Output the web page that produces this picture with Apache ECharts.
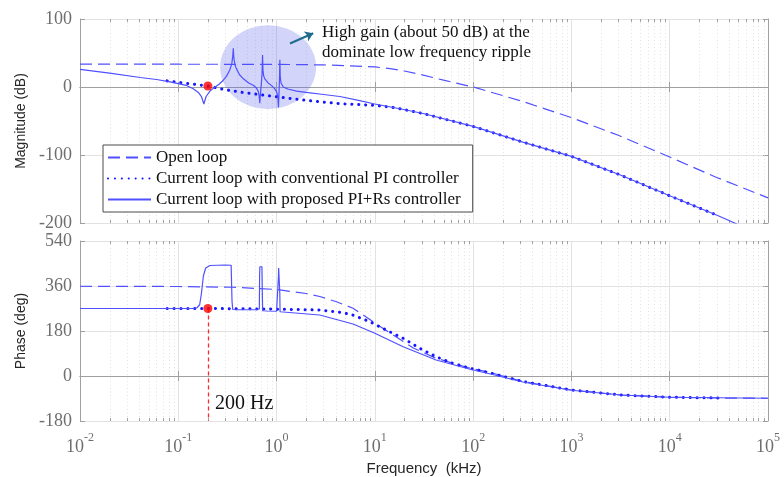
<!DOCTYPE html>
<html>
<head>
<meta charset="utf-8">
<script src="https://cdn.jsdelivr.net/npm/echarts/dist/echarts.min.js"></script>
<style>
html,body{margin:0;padding:0;background:#fff;}
#chart{width:784px;height:477px;}
</style>
</head>
<body>
<div id="chart"></div>
<script>
// ---------------- data (frequency in kHz) ----------------
const legendNames = ['Open loop', 'Current loop with conventional PI controller', 'Current loop with proposed PI+Rs controller'];

// Open loop
const olFreq = [0.01, 0.1, 1, 3, 5, 10, 14.3, 20, 31, 50, 100, 300, 1000, 3000, 10000, 30000, 100000];
const olMag  = [33.5, 33.5, 33.3, 32.5, 31.5, 29.5, 27, 23.5, 17.5, 10, 0, -20, -45, -71, -103, -133, -163];
const olPhFreq = [0.01, 0.1, 0.36, 1, 2, 2.75, 4, 6, 10, 16.7, 24.6, 42, 93, 150, 320, 1000, 3200, 10000, 30000, 100000];
const olPhase  = [359, 358, 355, 346, 330, 318, 298, 271, 212, 155, 112, 71, 31, 14, -22, -56, -76, -85, -88, -89];

// Current loop, conventional PI
const piFreq = [0.077, 0.112, 0.2, 0.265, 0.42, 0.92, 2, 4.4, 10, 14.3, 18, 31, 100, 320, 1000, 3100, 10000, 32000];
const piMag  = [9, 6, 1.5, -2.5, -7.4, -13.7, -19.7, -24.5, -27, -29.5, -32, -39, -58, -81, -102, -129, -160, -190];
const piPhFreq = [0.077, 0.2, 0.85, 2.75, 4, 5.6, 8.9, 13, 19.4, 28.6, 42, 62, 93, 150, 320, 1000, 3200, 10000, 32000];
const piPhase  = [270, 270, 268, 264, 257, 248, 217, 184, 151, 111, 77, 51, 31, 12, -22, -56, -76, -85, -88];

// Current loop, proposed PI+Rs
const rsFreq = [0.01, 0.02, 0.041, 0.06, 0.08, 0.1, 0.12, 0.142, 0.16, 0.172, 0.182, 0.192, 0.21, 0.227, 0.26, 0.287, 0.31, 0.334, 0.35, 0.358, 0.363, 0.368, 0.378, 0.39, 0.42, 0.46, 0.52, 0.58, 0.62, 0.65, 0.665, 0.675, 0.685, 0.70, 0.712, 0.72, 0.727, 0.74, 0.76, 0.82, 0.89, 0.95, 1.0, 1.03, 1.045, 1.058, 1.07, 1.08, 1.09, 1.11, 1.17, 1.3, 1.6, 2.0, 3.0, 4.4, 7, 10, 18, 31, 100, 320, 1000, 3100, 10000, 32000, 100000];
const rsMag  = [26, 20.5, 14, 11, 8, 5, 2.5, -2.5, -8, -14, -25, -14, -6, -2, 4, 10, 16, 25, 34, 45, 57, 42, 32, 27, 18, 12, 6, 2.5, -1, -6, -13, -24, -10, 5, 20, 47, 25, 16, 12, 6, 2, -2, -7, -14, -30, -10, 10, 40, 15, 6, 0, -3, -6, -8, -11, -14, -20, -25, -32, -39, -58, -81, -102, -129, -160, -190, -222];
const rsPhFreq = [0.01, 0.14, 0.155, 0.165, 0.172, 0.18, 0.19, 0.21, 0.3, 0.345, 0.352, 0.358, 0.4, 0.6, 0.668, 0.672, 0.676, 0.71, 0.716, 0.722, 0.8, 1.0, 1.042, 1.046, 1.05, 1.075, 1.079, 1.085, 1.1, 2.75, 6.0, 10, 19.4, 42, 93, 150, 320, 1000, 3200, 10000, 100000];
const rsPhase  = [270, 270, 273, 285, 330, 400, 432, 442, 444, 443, 300, 266, 265, 265, 268, 400, 437, 437, 330, 261, 260, 259, 262, 400, 432, 430, 330, 257, 257, 244, 208, 171, 117, 64, 27, 8, -24, -57, -76, -85, -89];

// 200 Hz marker
const markFreq = 0.2;
const markMag = 1.5;
const markPhase = 270;

// highlight ellipse and arrow (data coordinates)
const ellipseCenter = [0.82, 29];
const arrowFrom = [1.37, 64];
const arrowTo = [2.36, 79];

// axes
const xMin = 0.01, xMax = 100000;
const magMin = -200, magMax = 100, magStep = 100;
const phMin = -180, phMax = 540, phStep = 180;
const minorMultipliers = [2, 3, 4, 5, 6, 7, 8, 9];
const decades = [-2, -1, 0, 1, 2, 3, 4];

// -----------------------------------------------------------
const minorVals = [];
decades.forEach(d => minorMultipliers.forEach(m => minorVals.push([m * Math.pow(10, d), 0])));

const pairs = (f, v) => f.map((x, i) => [x, v[i]]);

const BLUE = '#5050ff';
const DOT = '#1515ff';
const AXIS = '#a0a0a0';
const GRID = '#e2e2e2';
const LABEL = '#6e6e6e';
const SERIF = 'Liberation Serif';
const SANS = 'Liberation Sans';

function xAx(grid, showLabel, pos) {
  const o = {
    type: 'log', logBase: 10, gridIndex: grid, min: xMin, max: xMax, position: pos,
    axisLine: { show: true, lineStyle: { color: AXIS, width: 1 } },
    axisTick: { show: true, inside: true, length: 5, lineStyle: { color: AXIS } },
    splitLine: { show: pos === 'bottom', lineStyle: { color: GRID, width: 1 } },
    axisLabel: { show: false },
    minorTick: { show: false }
  };
  if (showLabel) {
    o.axisLabel = {
      show: true, margin: 11,
      formatter: v => '{b|10}{s|' + Math.round(Math.log10(v)) + '}',
      rich: {
        b: { fontFamily: SERIF, fontSize: 18, color: LABEL, verticalAlign: 'bottom', lineHeight: 24 },
        s: { fontFamily: SERIF, fontSize: 12, color: LABEL, verticalAlign: 'top', lineHeight: 24 }
      }
    };
    o.name = 'Frequency  (kHz)';
    o.nameLocation = 'middle';
    o.nameGap = 40;
    o.nameTextStyle = { fontFamily: SANS, fontSize: 15, color: '#262626' };
  }
  return o;
}
function yAx(grid, min, max, step, name, pos) {
  const o = {
    type: 'value', gridIndex: grid, min: min, max: max, interval: step, position: pos,
    axisLine: { show: true, lineStyle: { color: AXIS, width: 1 } },
    axisTick: { show: true, inside: true, length: 5, lineStyle: { color: AXIS } },
    splitLine: { show: pos === 'left', lineStyle: { color: GRID, width: 1 } },
    axisLabel: { show: pos === 'left', margin: 8, fontFamily: SERIF, fontSize: 18, color: LABEL }
  };
  if (name) {
    o.name = name;
    o.nameLocation = 'middle';
    o.nameGap = 47;
    o.nameTextStyle = { fontFamily: SANS, fontSize: 14, color: '#262626' };
  }
  return o;
}

function minorSeries(grid) {
  return {
    type: 'custom', xAxisIndex: grid, yAxisIndex: grid, silent: true, z: 1,
    data: minorVals,
    renderItem: function (params, api) {
      const cs = params.coordSys;
      const x = Math.round(api.coord([api.value(0), api.value(1)])[0]) + 0.5;
      return {
        type: 'group',
        children: [
          { type: 'line', shape: { x1: x, y1: cs.y, x2: x, y2: cs.y + cs.height }, style: { stroke: '#e3e3e3', lineWidth: 1, lineDash: [1, 2.5] } },
          { type: 'line', shape: { x1: x, y1: cs.y + cs.height, x2: x, y2: cs.y + cs.height - 3 }, style: { stroke: AXIS, lineWidth: 1 } },
          { type: 'line', shape: { x1: x, y1: cs.y, x2: x, y2: cs.y + 3 }, style: { stroke: AXIS, lineWidth: 1 } }
        ]
      };
    }
  };
}

function curve(name, grid, data, kind) {
  const s = {
    name: name, type: 'line', xAxisIndex: grid, yAxisIndex: grid, data: data,
    symbol: 'none', showSymbol: false, z: 3, silent: true, clip: true,
    itemStyle: { color: kind === 'dot' ? DOT : BLUE },
    lineStyle: { color: BLUE, width: 1.2, type: 'solid' }
  };
  if (kind === 'dash') s.lineStyle.type = [12, 6];
  if (kind === 'dot') s.lineStyle = { color: DOT, width: 3, type: [0.1, 6.8], cap: 'round' };
  return s;
}

const chart = echarts.init(document.getElementById('chart'), null, { renderer: 'canvas' });
chart.setOption({
  animation: false,
  backgroundColor: '#ffffff',
  grid: [
    { left: 80, right: 16, top: 19, height: 204 },
    { left: 80, right: 16, top: 241, height: 180 }
  ],
  legend: {
    data: legendNames, orient: 'vertical', left: 103, top: 145, z: 20,
    backgroundColor: '#ffffff', borderColor: '#4a4a4a', borderWidth: 1,
    padding: [3, 12, 3, 4], itemWidth: 43, itemHeight: 14, itemGap: 2,
    selectedMode: false,
    itemStyle: { color: 'rgba(0,0,0,0)', borderWidth: 0, opacity: 0 },
    textStyle: { fontFamily: SERIF, fontSize: 17, color: '#111', lineHeight: 19 }
  },
  xAxis: [xAx(0, false, 'bottom'), xAx(1, true, 'bottom'), xAx(0, false, 'top'), xAx(1, false, 'top')],
  yAxis: [
    yAx(0, magMin, magMax, magStep, 'Magnitude (dB)', 'left'),
    yAx(1, phMin, phMax, phStep, 'Phase (deg)', 'left'),
    yAx(0, magMin, magMax, magStep, null, 'right'),
    yAx(1, phMin, phMax, phStep, null, 'right')
  ],
  graphic: [
    { type: 'text', left: 322, top: 23, z: 30,
      style: { text: 'High gain (about 50 dB) at the\ndominate low frequency ripple', fontFamily: SERIF, fontSize: 17, lineHeight: 20, fill: '#111' } },
    { type: 'text', left: 215, top: 394, z: 30,
      style: { text: '200 Hz', fontFamily: SERIF, fontSize: 20, fill: '#111' } }
  ],
  series: [
    minorSeries(0),
    minorSeries(1),
    {
      type: 'scatter', xAxisIndex: 0, yAxisIndex: 0, silent: true, z: 2,
      data: [ellipseCenter], symbol: 'circle', symbolSize: [96, 84],
      itemStyle: { color: 'rgba(95,105,235,0.35)' },
      markLine: {
        silent: true, symbol: ['none', 'arrow'], symbolSize: 8,
        label: { show: false },
        lineStyle: { color: '#1f6b8c', width: 2, type: 'solid' },
        data: [[{ coord: arrowFrom }, { coord: arrowTo }]]
      }
    },
    curve(legendNames[0], 0, pairs(olFreq, olMag), 'dash'),
    curve(legendNames[1], 0, pairs(piFreq, piMag), 'dot'),
    curve(legendNames[2], 0, pairs(rsFreq, rsMag), 'solid'),
    curve(legendNames[0], 1, pairs(olPhFreq, olPhase), 'dash'),
    curve(legendNames[1], 1, pairs(piPhFreq, piPhase), 'dot'),
    curve(legendNames[2], 1, pairs(rsPhFreq, rsPhase), 'solid'),
    {
      type: 'scatter', xAxisIndex: 0, yAxisIndex: 0, silent: true, z: 6,
      data: [[markFreq, markMag]], symbolSize: 9, itemStyle: { color: '#ff0000' }
    },
    {
      type: 'scatter', xAxisIndex: 1, yAxisIndex: 1, silent: true, z: 6,
      data: [[markFreq, markPhase]], symbolSize: 9, itemStyle: { color: '#ff0000' },
      markLine: {
        silent: true, symbol: 'none', label: { show: false },
        lineStyle: { color: '#ff2a2a', width: 1.3, type: [4, 3] },
        data: [[{ coord: [markFreq, markPhase] }, { coord: [markFreq, phMin] }]]
      }
    }
  ]
});
</script>
</body>
</html>
